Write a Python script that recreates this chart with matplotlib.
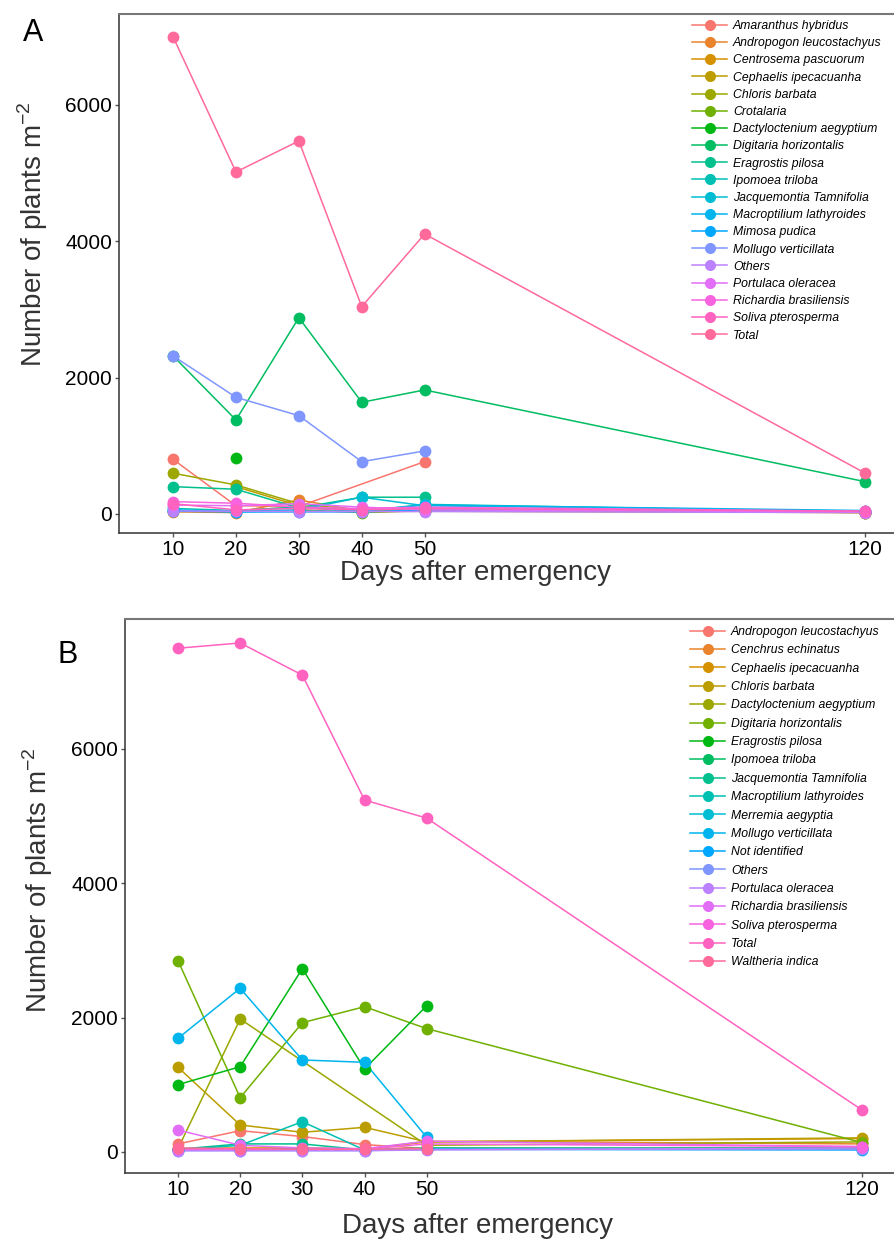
import numpy as np
import matplotlib
matplotlib.use("Agg")
import matplotlib.pyplot as plt
from matplotlib.lines import Line2D

plt.rcParams['font.family'] = ['Liberation Sans', 'DejaVu Sans']

nan = np.nan
days = [10, 20, 30, 40, 50, 120]

# ---------------- panel A
species_a = ["Amaranthus hybridus", "Andropogon leucostachyus", "Centrosema pascuorum",
             "Cephaelis ipecacuanha", "Chloris barbata", "Crotalaria",
             "Dactyloctenium aegyptium", "Digitaria horizontalis", "Eragrostis pilosa",
             "Ipomoea triloba", "Jacquemontia Tamnifolia", "Macroptilium lathyroides",
             "Mimosa pudica", "Mollugo verticillata", "Others", "Portulaca oleracea",
             "Richardia brasiliensis", "Soliva pterosperma", "Total"]
amaranthus_a = [800, 120, 110, nan, 767, nan]
andropogon_a = [30, 20, 205, 40, 60, 30]
centrosema_a = [nan, 50, 100, 30, 50, 20]
cephaelis_a = [nan, 400, 120, 30, 40, 20]
chloris_a = [597, 425, 150, 50, 80, 20]
crotalaria_a = [nan, nan, 60, 20, 50, nan]
dactyloctenium_a = [nan, 826, nan, nan, nan, nan]
digitaria_a = [2318, 1379, 2880, 1638, 1819, 474]
eragrostis_a = [400, 362, 88, 245, 245, nan]
ipomoea_a = [80, 50, 100, 40, 140, 30]
jacquemontia_a = [50, 40, 60, 245, 120, 40]
macroptilium_a = [60, 30, 40, 40, 130, 50]
mimosa_a = [40, 30, 30, 30, 60, 30]
mollugo_a = [2318, 1711, 1442, 767, 924, nan]
others_a = [44, 40, 35, 35, 35, 20]
portulaca_a = [130, 120, 150, 100, 60, 30]
richardia_a = [180, 157, 100, 80, 100, 40]
soliva_a = [150, 60, 80, 60, 80, 40]
total_a = [7000, 5017, 5472, 3041, 4107, 601]
values_a = [amaranthus_a, andropogon_a, centrosema_a, cephaelis_a, chloris_a, crotalaria_a,
            dactyloctenium_a, digitaria_a, eragrostis_a, ipomoea_a, jacquemontia_a,
            macroptilium_a, mimosa_a, mollugo_a, others_a, portulaca_a, richardia_a,
            soliva_a, total_a]

# ---------------- panel B
species_b = ["Andropogon leucostachyus", "Cenchrus echinatus", "Cephaelis ipecacuanha",
             "Chloris barbata", "Dactyloctenium aegyptium", "Digitaria horizontalis",
             "Eragrostis pilosa", "Ipomoea triloba", "Jacquemontia Tamnifolia",
             "Macroptilium lathyroides", "Merremia aegyptia", "Mollugo verticillata",
             "Not identified", "Others", "Portulaca oleracea", "Richardia brasiliensis",
             "Soliva pterosperma", "Total", "Waltheria indica"]
andropogon_b = [120, 317, 230, 110, 50, 60]
cenchrus_b = [40, 40, 60, 40, 160, 120]
cephaelis_b = [50, 60, 60, 40, 150, 200]
chloris_b = [1261, 402, 293, 367, 150, 210]
dactyloctenium_b = [50, 1980, nan, nan, 100, 150]
digitaria_b = [2848, 808, 1925, 2163, 1836, 140]
eragrostis_b = [1002, 1270, 2729, 1236, 2178, nan]
ipomoea_b = [30, 40, 50, 30, 60, 50]
jacquemontia_b = [40, 120, 120, 30, 50, 60]
macroptilium_b = [30, 100, 451, 30, 50, 50]
merremia_b = [30, 30, 40, 30, 40, 40]
mollugo_b = [1692, 2437, 1370, 1335, 219, nan]
notidentified_b = [30, 30, 30, 30, 40, 30]
others_b = [20, 20, 20, 20, 40, 40]
portulaca_b = [20, 20, 20, 20, 30, 60]
richardia_b = [327, 100, 60, 50, 160, 80]
soliva_b = [40, 40, 40, 40, 120, 80]
total_b = [7500, 7578, 7100, 5240, 4970, 625]
waltheria_b = [60, 50, 40, 40, 50, nan]
values_b = [andropogon_b, cenchrus_b, cephaelis_b, chloris_b, dactyloctenium_b, digitaria_b,
            eragrostis_b, ipomoea_b, jacquemontia_b, macroptilium_b, merremia_b, mollugo_b,
            notidentified_b, others_b, portulaca_b, richardia_b, soliva_b, total_b,
            waltheria_b]


def hcl_hex(h, c=100, l=65):
    # polar LUV -> sRGB, same as R's hcl()
    h = np.deg2rad(h)
    U, V = c*np.cos(h), c*np.sin(h)
    Xn, Yn, Zn = 95.047, 100.0, 108.883
    un = 4*Xn/(Xn+15*Yn+3*Zn)
    vn = 9*Yn/(Xn+15*Yn+3*Zn)
    Y = Yn*((l+16)/116)**3
    u = U/(13*l) + un
    v = V/(13*l) + vn
    X = 9.0*Y*u/(4*v)
    Z = -X/3 - 5*Y + 3*Y/v
    X, Y, Z = X/100, Y/100, Z/100
    rgb = [3.240479*X - 1.537150*Y - 0.498535*Z,
           -0.969256*X + 1.875992*Y + 0.041556*Z,
           0.055648*X - 0.204043*Y + 1.057311*Z]
    out = []
    for t in rgb:
        t = 1.055*t**(1/2.4) - 0.055 if t > 0.00304 else 12.92*t
        out.append(min(max(t, 0), 1))
    return tuple(out)


def hue_pal(n):
    hues = np.linspace(15, 375, n+1)[:n]
    return [hcl_hex(h) for h in hues]


def panel(ax, names, vals, ylim, xlim):
    cols = hue_pal(len(names))
    x = np.array(days, dtype=float)
    for v, c in zip(vals, cols):
        v = np.array(v, dtype=float)
        ok = ~np.isnan(v)
        ax.plot(x[ok], v[ok], '-', color=c, lw=1.1, zorder=2)
    for v, c in zip(vals, cols):
        v = np.array(v, dtype=float)
        ok = ~np.isnan(v)
        ax.plot(x[ok], v[ok], 'o', color=c, ms=8.5, mec='none', zorder=3)
    ax.set_xlim(*xlim)
    ax.set_ylim(*ylim)
    ax.set_xticks(days)
    ax.set_yticks([0, 2000, 4000, 6000])
    ax.tick_params(labelsize=15, length=3, width=1, color='#555555', labelcolor='black', pad=2)
    ax.spines['right'].set_visible(False)
    ax.spines['top'].set_color('#777777')
    ax.spines['top'].set_linewidth(1.5)
    for s in ['left', 'bottom']:
        ax.spines[s].set_color('#333333')
        ax.spines[s].set_linewidth(1.1)
    handles = [Line2D([], [], color=c, lw=1.1, marker='o', ms=8, mec='none') for c in cols]
    return handles


fig = plt.figure(figsize=(8.95, 12.45), dpi=100)
W, H = 895.0, 1245.0

axA = fig.add_axes([119/W, 1-533/H, 1-119/W, (533-14)/H])
hA = panel(axA, species_a, values_a, (-280, 7335), (1.4, 124.8))
axA.legend(hA, species_a, loc='upper left', bbox_to_anchor=(692/W, 1-20/H),
           bbox_transform=fig.transFigure, frameon=False, handlelength=2.9,
           handletextpad=0.45, labelspacing=0.425, borderpad=0, borderaxespad=0,
           prop={'size': 8.8, 'style': 'italic'})

axB = fig.add_axes([125/W, 1-1173/H, 1-125/W, (1173-619)/H])
hB = panel(axB, species_b, values_b, (-313, 7935), (1.48, 125.3))
axB.legend(hB, species_b, loc='upper left', bbox_to_anchor=(690/W, 1-626/H),
           bbox_transform=fig.transFigure, frameon=False, handlelength=2.9,
           handletextpad=0.45, labelspacing=0.52, borderpad=0, borderaxespad=0,
           prop={'size': 8.8, 'style': 'italic'})

lab = dict(fontsize=20, color='#333333', ha='center', va='center')
ylab = r"Number of plants m$^{\mathregular{-2}}$"
fig.text(475/W, 1-573/H, "Days after emergency", **lab)
fig.text(478/W, 1-1226/H, "Days after emergency", **lab)
fig.text(33/W, 1-234/H, ylab, rotation=90, **lab)
fig.text(38/W, 1-880/H, ylab, rotation=90, **lab)

fig.text(33/W, 1-33/H, "A", fontsize=22, ha='center', va='center')
fig.text(68/W, 1-655/H, "B", fontsize=22, ha='center', va='center')

fig.savefig("out.png", dpi=100)
